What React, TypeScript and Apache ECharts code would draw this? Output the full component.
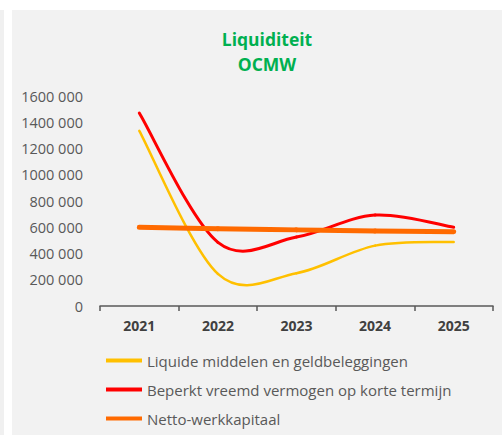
import React, { useEffect, useRef } from "react";
import * as echarts from "echarts";

const categories = ["2021", "2022", "2023", "2024", "2025"];
const liquideMiddelen = [1335000, 245000, 250000, 460000, 488000];
const beperktVreemdVermogen = [1470000, 485000, 525000, 693000, 600000];
const nettoWerkkapitaal = [600000, 588000, 580000, 572000, 565000];
const seriesNames = [
  "Liquide middelen en geldbeleggingen",
  "Beperkt vreemd vermogen op korte termijn",
  "Netto-werkkapitaal",
];
const yTicks = { min: 0, max: 1600000, interval: 200000 };

const FONT = "'Open Sans', sans-serif";

function makeSmoothSeries(name: string, values: number[], color: string, width: number) {
  return {
    type: "custom",
    name,
    itemStyle: { color },
    encode: { x: 0, y: 1 },
    data: values.map((v, i) => [i, v]),
    renderItem: (params: any, api: any) => {
      const i = params.dataIndex;
      const n = values.length;
      if (i >= n - 1) return { type: "group", children: [] };
      const pt = (k: number) => {
        const kk = Math.max(0, Math.min(n - 1, k));
        return api.coord([kk, values[kk]]);
      };
      const p0 = pt(i - 1);
      const p1 = pt(i);
      const p2 = pt(i + 1);
      const p3 = pt(i + 2);
      const cp1 = [p1[0] + (p2[0] - p0[0]) / 6, p1[1] + (p2[1] - p0[1]) / 6];
      const cp2 = [p2[0] - (p3[0] - p1[0]) / 6, p2[1] - (p3[1] - p1[1]) / 6];
      return {
        type: "bezierCurve",
        shape: {
          x1: p1[0],
          y1: p1[1],
          x2: p2[0],
          y2: p2[1],
          cpx1: cp1[0],
          cpy1: cp1[1],
          cpx2: cp2[0],
          cpy2: cp2[1],
        },
        style: { stroke: color, lineWidth: width, fill: "none", lineCap: "round" },
      };
    },
  };
}

export default function App() {
  const ref = useRef<HTMLDivElement>(null);
  useEffect(() => {
    if (!ref.current) return;
    const chart = echarts.init(ref.current, undefined, { renderer: "svg" });
    const colors = ["#ffc000", "#ff0000", "#ff6a00"];
    chart.setOption({
      animation: false,
      backgroundColor: "#ffffff",
      graphic: {
        elements: [
          { type: "rect", z: -10, shape: { x: 12, y: 10, width: 490, height: 425 }, style: { fill: "#f2f2f2" } },
          { type: "rect", z: -10, shape: { x: 0, y: 10, width: 4, height: 425 }, style: { fill: "#f0f0f0" } },
        ],
      },
      title: {
        text: "Liquiditeit\nOCMW",
        left: 262,
        top: 21,
        textAlign: "center",
        textStyle: {
          color: "#00b050",
          fontWeight: "bold",
          fontSize: 17.5,
          fontFamily: FONT,
          lineHeight: 25,
        },
      },
      legend: {
        orient: "vertical",
        left: 101,
        top: 347,
        itemWidth: 36,
        itemHeight: 4,
        itemGap: 12,
        textStyle: { color: "#595959", fontSize: 15, lineHeight: 17, fontFamily: FONT },
        data: seriesNames.map((n, i) => ({ name: n, icon: "rect", itemStyle: { color: colors[i] } })),
      },
      grid: { left: 100, right: 9, top: 96, bottom: 129 },
      xAxis: {
        type: "category",
        data: categories,
        boundaryGap: true,
        axisLine: { lineStyle: { color: "#595959", width: 1.5 } },
        axisTick: { show: true, length: 5, lineStyle: { color: "#595959", width: 1.5 } },
        axisLabel: { color: "#404040", fontWeight: "bold", fontSize: 14, fontFamily: FONT, margin: 12 },
        splitLine: { show: false },
      },
      yAxis: {
        type: "value",
        min: yTicks.min,
        max: yTicks.max,
        interval: yTicks.interval,
        axisLine: { show: false },
        axisTick: { show: false },
        splitLine: { show: false },
        axisLabel: {
          color: "#595959",
          fontSize: 14.5,
          fontFamily: FONT,
          margin: 17,
          formatter: (v: number) =>
            v === 0 ? "0" : `${Math.floor(v / 1000)} ${String(v % 1000).padStart(3, "0")}`,
        },
      },
      series: [
        makeSmoothSeries(seriesNames[0], liquideMiddelen, colors[0], 2.5),
        makeSmoothSeries(seriesNames[1], beperktVreemdVermogen, colors[1], 3),
        makeSmoothSeries(seriesNames[2], nettoWerkkapitaal, colors[2], 5),
      ],
    });
    return () => chart.dispose();
  }, []);
  return (
    <div
      ref={ref}
      style={{ position: "absolute", left: 0, top: 0, width: 502, height: 435 }}
    />
  );
}
